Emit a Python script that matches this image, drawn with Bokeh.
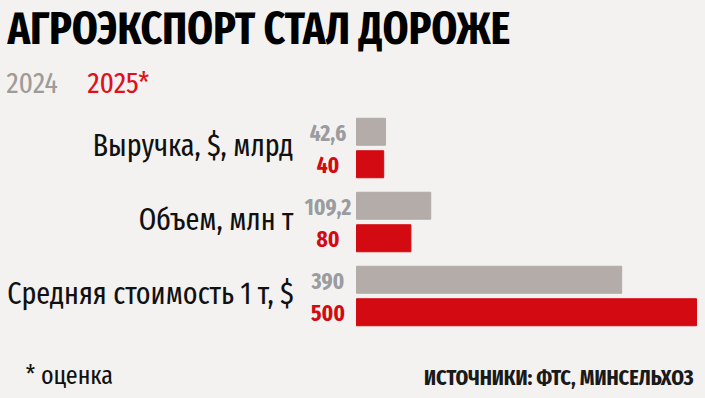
from bokeh.plotting import figure
from bokeh.models import Range1d, Label, ColumnDataSource
from bokeh.core.properties import value
from bokeh.embed import file_html
from bokeh.resources import INLINE

categories = ["Выручка, $, млрд", "Объем, млн т", "Средняя стоимость 1 т, $"]
values_2024 = [42.6, 109.2, 390]
values_2025 = [40, 80, 500]
labels_2024 = ["42,6", "109,2", "390"]
labels_2025 = ["40", "80", "500"]
series_names = ["2024", "2025*"]
title_text = "АГРОЭКСПОРТ СТАЛ ДОРОЖЕ"
note_text = "* оценка"
source_text = "ИСТОЧНИКИ: ФТС, МИНСЕЛЬХОЗ"

BG = "#f4f2f0"
GRAY = "#b3aca9"
GRAY_TXT = "#9a9c9f"
RED = "#d30a11"
FONT = "Fira Sans Extra Condensed"

W, H = 697, 390
px_per_unit = 0.68
x0_px = 356
y0_px = 147.5
group_px = 74.0

p = figure(width=W, height=H, output_backend="svg", toolbar_location=None,
           x_range=Range1d(-x0_px / px_per_unit, (W - x0_px) / px_per_unit),
           y_range=Range1d((H - y0_px) / group_px, -y0_px / group_px),
           min_border=0, background_fill_color=BG, border_fill_color=BG,
           outline_line_color=None)
p.axis.visible = False
p.grid.visible = False

idx = list(range(len(categories)))
off = 16.25 / group_px
bh = 27 / group_px
src = ColumnDataSource(dict(
    cat=categories,
    yc=idx,
    y24=[i - off for i in idx],
    y25=[i + off for i in idx],
    v24=values_2024, v25=values_2025,
    l24=labels_2024, l25=labels_2025,
    zero=[0] * len(idx),
))

p.hbar(y="y24", left=0, right="v24", height=bh, color=GRAY, source=src)
p.hbar(y="y25", left=0, right="v25", height=bh, color=RED, source=src)

p.text(x="zero", y="y24", text="l24", source=src, x_offset=-28.5, y_offset=1,
       text_align="center", text_baseline="middle", text_color=GRAY_TXT,
       text_font=value(FONT), text_font_style="bold", text_font_size="23px")
p.text(x="zero", y="y25", text="l25", source=src, x_offset=-28.5, y_offset=1,
       text_align="center", text_baseline="middle", text_color=RED,
       text_font=value(FONT), text_font_style="bold", text_font_size="23px")
p.text(x="zero", y="yc", text="cat", source=src, x_offset=-63, y_offset=-3,
       text_align="right", text_baseline="middle", text_color="#111111",
       text_font=value(FONT), text_font_size="30.5px")

p.add_layout(Label(x=7, y=H - 28, x_units="screen", y_units="screen", text=title_text,
                   text_font=FONT, text_font_style="bold", text_font_size="45px",
                   text_color="#000000", text_baseline="middle"))
p.add_layout(Label(x=6, y=H - 82.5, x_units="screen", y_units="screen", text=series_names[0],
                   text_font=FONT, text_font_size="30px", text_color="#9e9b99",
                   text_baseline="middle"))
p.add_layout(Label(x=87, y=H - 82.5, x_units="screen", y_units="screen", text=series_names[1],
                   text_font=FONT, text_font_size="30px", text_color="#e0101a",
                   text_baseline="middle"))
p.add_layout(Label(x=25, y=H - 374.5, x_units="screen", y_units="screen", text=note_text,
                   text_font=FONT, text_font_size="26px", text_color="#111111",
                   text_baseline="middle"))
p.add_layout(Label(x=693, y=H - 376.5, x_units="screen", y_units="screen", text=source_text,
                   text_font=FONT, text_font_style="bold", text_font_size="22px",
                   text_color="#1a1a1a", text_align="right", text_baseline="middle"))

html = file_html(p, INLINE)
html = html.replace("<head>", "<head><style>html,body{background:%s;}</style>" % BG, 1)
open("out.html", "w").write(html)
